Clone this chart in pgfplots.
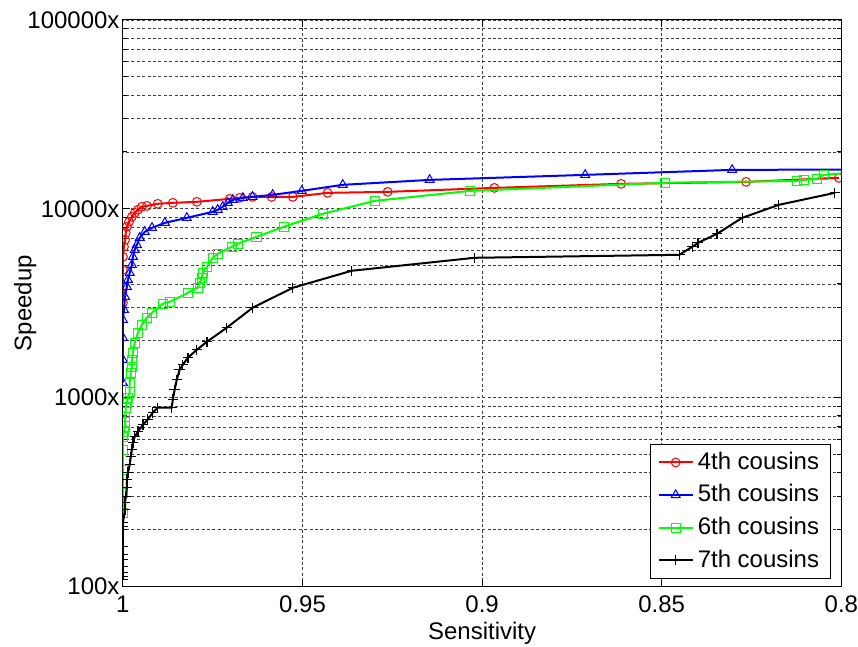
\documentclass[border=0pt]{standalone}
\usepackage{fontspec}
\setmainfont{Liberation Sans}
\usepackage{pgfplots}
\pgfplotsset{compat=1.18}

\begin{document}
\fontsize{12}{14}\selectfont
\begin{tikzpicture}
\begin{axis}[
    scale only axis,
    width=359.5pt, height=283.5pt,
    x dir=reverse,
    xmin=0.8, xmax=1,
    ymode=log,
    ymin=100, ymax=100000,
    xtick={0.8,0.85,0.9,0.95,1},
    xticklabels={0.8,0.85,0.9,0.95,1},
    ytick={100,1000,10000,100000},
    yticklabels={100x,1000x,10000x,100000x},
    minor x tick num=0,
    tick pos=both,
    tick align=inside,
    major tick length=3.5pt,
    minor tick length=2pt,
    xmajorgrids, ymajorgrids, yminorgrids,
    grid style={dash pattern=on 1.5pt off 1.2pt, black!75, line width=0.4pt},
    axis line style={black, line width=0.5pt},
    every tick/.style={black, line width=0.5pt},
    yticklabel style={inner sep=1.5pt, font=\fontsize{12}{14}\selectfont},
    xticklabel style={inner xsep=0pt, inner ysep=4.5pt, font=\fontsize{12}{14}\selectfont},
    xlabel={Sensitivity},
    ylabel={Speedup},
    xlabel style={font=\fontsize{12}{14}\selectfont, inner sep=1pt, yshift=1pt},
    ylabel style={font=\fontsize{12}{14}\selectfont, at={(axis description cs:-0.136,0.5)}, anchor=center},
    clip marker paths=true,
    legend style={at={(0.985,0.013)}, anchor=south east, draw=black, line width=0.5pt,
        font=\fontsize{12}{14}\selectfont, row sep=1.8pt, inner xsep=3.5pt, inner ysep=2pt,
        cells={anchor=west}},
    legend cell align=left,
]

% 4th cousins
\addplot[red, line width=1pt, mark=o, mark size=2.2pt, mark options={solid, line width=0.5pt}] coordinates {
(1.0000,3184) (1.0000,3866) (1.0000,4755) (1.0000,5570) (0.9997,6295) (0.9994,6855)
(0.9992,7464) (0.9989,8034) (0.9983,8535) (0.9975,9073) (0.9967,9524) (0.9958,9880)
(0.9947,10250) (0.9933,10370) (0.9903,10630) (0.9861,10760) (0.9794,10890) (0.9703,11290)
(0.9675,11430) (0.9639,11570) (0.9586,11570) (0.9527,11570) (0.9430,12150) (0.9263,12300)
(0.8966,12910) (0.8613,13560) (0.8265,13890) (0.8007,14590)
};
\addlegendentry{4th cousins}

% 5th cousins
\addplot[blue, line width=1pt, mark=triangle, mark size=2.6pt, mark options={solid, line width=0.5pt}] coordinates {
(1.0000,1200) (1.0000,1589) (1.0000,2077) (1.0000,2586) (0.9997,2921) (0.9994,3423)
(0.9989,3866) (0.9986,4210) (0.9981,4585) (0.9975,5055) (0.9972,5570) (0.9967,6067)
(0.9961,6450) (0.9953,7025) (0.9939,7555) (0.9919,7930) (0.9883,8433) (0.9822,8960)
(0.9750,9640) (0.9736,9880) (0.9722,10250) (0.9708,10760) (0.9694,11160) (0.9666,11430)
(0.9639,11570) (0.9583,11860) (0.9502,12450) (0.9388,13400) (0.9146,14230) (0.8713,15130)
(0.8304,16080) (0.7950,16150)
};
\addlegendentry{5th cousins}

% 6th cousins
\addplot[green, line width=1pt, mark=square, mark size=2.3pt, mark options={solid, line width=0.5pt}] coordinates {
(1.0000,246) (1.0000,314) (1.0000,416) (1.0000,531) (1.0000,622) (0.9997,661)
(0.9994,703) (0.9994,747) (0.9994,794) (0.9992,885) (0.9989,941) (0.9986,1000)
(0.9981,1076) (0.9981,1200) (0.9978,1356) (0.9975,1459) (0.9975,1589) (0.9972,1730)
(0.9967,1954) (0.9958,2208) (0.9947,2433) (0.9933,2650) (0.9919,2818) (0.9889,3143)
(0.9869,3220) (0.9819,3593) (0.9792,3820) (0.9786,4058) (0.9780,4313) (0.9778,4585)
(0.9766,4934) (0.9750,5505) (0.9736,5780) (0.9697,6295) (0.9680,6530) (0.9628,7110)
(0.9552,8034) (0.9444,9410) (0.9299,11020) (0.9033,12450) (0.8490,13740) (0.8124,14060)
(0.8104,14230) (0.8068,14410) (0.8049,15130) (0.7950,15700)
};
\addlegendentry{6th cousins}

% 7th cousins
\addplot[black, line width=1pt, mark=+, mark size=2.6pt, mark options={solid, line width=0.6pt}] coordinates {
(1.0000,109) (1.0000,113) (1.0000,119) (1.0000,128) (1.0000,139) (1.0000,148)
(1.0000,163) (1.0000,208) (1.0000,218) (0.9994,255) (0.9994,278) (0.9992,299)
(0.9989,334) (0.9989,368) (0.9986,401) (0.9981,442) (0.9978,487) (0.9975,531)
(0.9972,578) (0.9967,622) (0.9958,661) (0.9944,720) (0.9931,765) (0.9917,833)
(0.9903,885) (0.9864,885) (0.9861,976) (0.9856,1102) (0.9850,1245) (0.9842,1406)
(0.9833,1495) (0.9819,1628) (0.9794,1795) (0.9766,1978) (0.9711,2346) (0.9639,2993)
(0.9527,3820) (0.9363,4699) (0.9021,5505) (0.8451,5710) (0.8415,6295) (0.8399,6607)
(0.8346,7378) (0.8276,8960) (0.8174,10500) (0.8018,12150)
};
\addlegendentry{7th cousins}

\end{axis}
\path (current axis.north) -- ++(0,10pt);
\path (current axis.south) -- ++(0,-30pt);
\path (current axis.west) -- ++(-61.5pt,0);
\path (current axis.east) -- ++(8pt,0);
\end{tikzpicture}
\end{document}
